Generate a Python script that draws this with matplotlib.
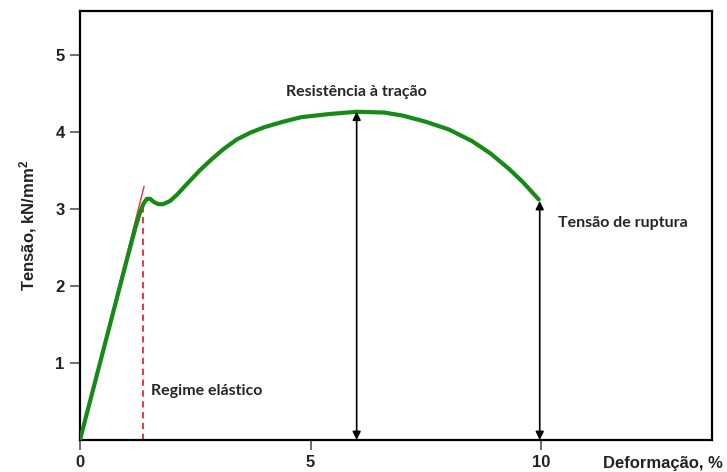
import matplotlib
matplotlib.use("Agg")
import matplotlib.pyplot as plt

plt.rcParams['mathtext.default'] = 'regular'

# curva tensão x deformação
deformacao = [0.0, 0.5, 1.0, 1.2, 1.3, 1.38, 1.45, 1.52, 1.6, 1.7, 1.8, 1.95,
              2.1, 2.3, 2.6, 2.85, 3.1, 3.4, 3.7, 4.0, 4.4, 4.8, 5.4, 6.0,
              6.6, 7.0, 7.5, 8.0, 8.5, 8.9, 9.3, 9.6, 9.95]
tensao = [0.0, 1.15, 2.3, 2.75, 2.95, 3.07, 3.13, 3.13, 3.09, 3.06, 3.06, 3.1,
          3.18, 3.31, 3.5, 3.64, 3.77, 3.9, 3.99, 4.06, 4.13, 4.19, 4.23, 4.26,
          4.25, 4.21, 4.13, 4.03, 3.88, 3.72, 3.52, 3.35, 3.12]

# reta do regime elástico
reta_x = [0.0, 1.39]
reta_y = [0.0, 3.29]
limite_elastico_x = 1.36
limite_elastico_y = 3.0

# pontos marcados
x_resistencia, y_resistencia = 6.0, 4.26
x_ruptura, y_ruptura = 9.97, 3.1

x_ticks = [0, 5, 10]
y_ticks = [1, 2, 3, 4, 5]

fig = plt.figure(figsize=(7.27, 4.72), dpi=100)
ax = fig.add_axes([0.110, 0.068, 0.869, 0.909])

ax.plot(reta_x, reta_y, color='#f03030', lw=1.0, zorder=2)
ax.plot(deformacao, tensao, color='#168a16', lw=3.0, solid_capstyle='round',
        solid_joinstyle='round', zorder=3)
ax.plot([limite_elastico_x, limite_elastico_x], [0, limite_elastico_y],
        color='#f0203a', lw=1.3, ls=(0, (3.5, 2.5)), zorder=2)

seta = dict(arrowstyle='<|-|>', color='black', lw=1.2, mutation_scale=12,
            shrinkA=0, shrinkB=0)
ax.annotate('', xy=(x_resistencia, y_resistencia), xytext=(x_resistencia, 0),
            arrowprops=seta)
ax.annotate('', xy=(x_ruptura, y_ruptura), xytext=(x_ruptura, 0),
            arrowprops=seta)

fonte = dict(family=['Lato', 'DejaVu Sans'], fontsize=11.5, fontweight='bold',
             color='#262626')
ax.text(x_resistencia, 4.52, 'Resistência à tração', ha='center', va='center', **fonte)
ax.text(10.37, 2.82, 'Tensão de ruptura', ha='left', va='center', **fonte)
ax.text(1.54, 0.64, 'Regime elástico', ha='left', va='center', **fonte)

ax.set_xlim(0, 13.7)
ax.set_ylim(0, 5.57)
ax.set_xticks(x_ticks)
ax.set_yticks(y_ticks)
for s in ax.spines.values():
    s.set_linewidth(1.6)
ax.tick_params(direction='out', length=7, width=1.2, color='#555555', pad=4)

tick_font = ['Liberation Sans Narrow', 'Liberation Sans', 'DejaVu Sans']
for lab in ax.get_xticklabels() + ax.get_yticklabels():
    lab.set_family(tick_font)
    lab.set_fontweight('bold')
    lab.set_fontsize(12)
    lab.set_color('#222222')

ax.set_ylabel('Tensão, kN/mm$^2$', family=tick_font, fontweight='bold',
              fontsize=12, color='#222222', labelpad=12)
fig.text(0.995, 0.018, 'Deformação, %', ha='right', va='center', family=tick_font,
         fontweight='bold', fontsize=12, color='#222222')

fig.savefig('out.png', dpi=100)
